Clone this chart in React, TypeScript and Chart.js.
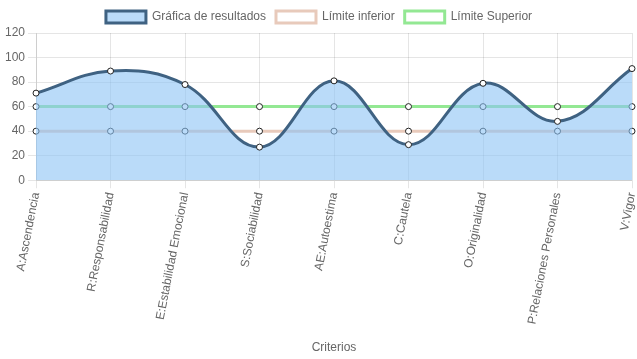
import React, { useEffect, useRef } from "react";
import { Chart, registerables } from "chart.js";

Chart.register(...registerables);

const categories = [
  "A:Ascendencia",
  "R:Responsabilidad",
  "E:Estabilidad Emocional",
  "S:Sociabilidad",
  "AE:Autoestima",
  "C:Cautela",
  "O:Originalidad",
  "P:Relaciones Personales",
  "V:Vigor",
];
const resultados = [71, 89, 78, 27, 81, 29, 79, 48, 91];
const limiteInferior = [40, 40, 40, 40, 40, 40, 40, 40, 40];
const limiteSuperior = [60, 60, 60, 60, 60, 60, 60, 60, 60];

export default function App() {
  const ref = useRef<HTMLCanvasElement>(null);
  useEffect(() => {
    const font = { family: "'Helvetica Neue', 'Liberation Sans', Arial, sans-serif", size: 12 };
    const chart = new Chart(ref.current!, {
      type: "line",
      data: {
        labels: categories,
        datasets: [
          {
            label: "Gráfica de resultados",
            data: resultados,
            borderColor: "#3f6282",
            backgroundColor: "rgba(140,195,245,0.6)",
            borderWidth: 3,
            fill: "origin",
            tension: 0.4,
            pointRadius: 3,
            pointBackgroundColor: "#fff",
            pointBorderColor: "#222",
            pointBorderWidth: 1,
          },
          {
            label: "Límite inferior",
            data: limiteInferior,
            borderColor: "#e8cabb",
            backgroundColor: "rgba(255,255,255,0.3)",
            borderWidth: 3,
            fill: false,
            tension: 0.4,
            pointRadius: 3,
            pointBackgroundColor: "#fff",
            pointBorderColor: "#222",
            pointBorderWidth: 1,
          },
          {
            label: "Límite Superior",
            data: limiteSuperior,
            borderColor: "#93e893",
            backgroundColor: "rgba(255,255,255,0.3)",
            borderWidth: 3,
            fill: false,
            tension: 0.4,
            pointRadius: 3,
            pointBackgroundColor: "#fff",
            pointBorderColor: "#222",
            pointBorderWidth: 1,
          },
        ],
      },
      options: {
        animation: false,
        responsive: true,
        maintainAspectRatio: false,
        layout: { padding: { left: 2, right: 1, top: 1, bottom: 4 } },
        plugins: {
          legend: {
            labels: {
              font,
              color: "#666",
              boxWidth: 40,
              boxHeight: 12,
              padding: 10,
            },
          },
          tooltip: { enabled: false },
        },
        scales: {
          x: {
            grid: { color: "rgba(0,0,0,0.1)" },
            ticks: { font, color: "#666", minRotation: 79, maxRotation: 79, autoSkip: false },
            title: { display: true, text: "Criterios", font, color: "#666", padding: { top: 12, bottom: 0 } },
            afterFit: (scale: any) => {
              scale.paddingRight = 0;
            },
          },
          y: {
            min: 0,
            max: 120,
            grid: { color: "rgba(0,0,0,0.1)" },
            ticks: { font, color: "#666", stepSize: 20 },
          },
        },
      },
    });
    return () => chart.destroy();
  }, []);
  return (
    <div style={{ position: "fixed", left: 0, top: 0, width: 637, height: 359 }}>
      <canvas ref={ref} />
    </div>
  );
}
